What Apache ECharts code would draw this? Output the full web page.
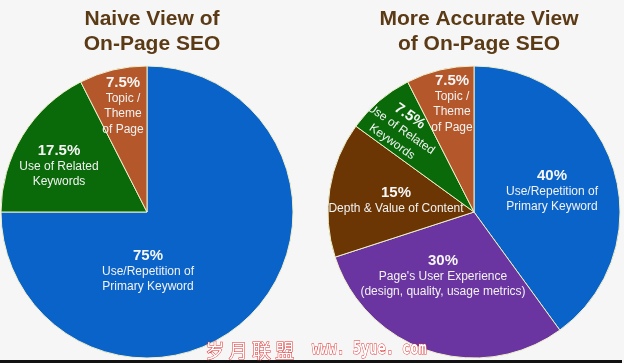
<!DOCTYPE html>
<html>
<head>
<meta charset="utf-8">
<script src="https://cdn.jsdelivr.net/npm/echarts@6/dist/echarts.min.js"></script>
<style>
html,body{margin:0;padding:0;background:#f6f6f6;}
#chart{width:624px;height:363px;}
</style>
</head>
<body>
<div id="chart"></div>
<script>
// ---- data ----
const leftTitle = 'Naive View of\nOn-Page SEO';
const rightTitle = 'More Accurate View\nof On-Page SEO';
const leftNames = ['Use/Repetition of\nPrimary Keyword', 'Use of Related\nKeywords', 'Topic /\nTheme\nof Page'];
const leftValues = [75, 17.5, 7.5];
const rightNames = ['Use/Repetition of\nPrimary Keyword', "Page's User Experience\n(design, quality, usage metrics)", 'Depth & Value of Content', 'Use of Related\nKeywords', 'Topic /\nTheme\nof Page'];
const rightValues = [40, 30, 15, 7.5, 7.5];

// ---- styles ----
const leftColors = ['#0a63c8', '#0a6a0a', '#b4572b'];
const rightColors = ['#0a63c8', '#6a35a0', '#6b3604', '#0a6a0a', '#b4572b'];
const leftLabelPos = [[148, 271], [59, 166], [123, 106]];
const rightLabelPos = [[552, 191], [443, 276], [396, 201], [401, 129], [452, 104]];
const rightLabelRot = [0, 0, 0, -35, 0];
const FONT = '"Liberation Sans", Arial, sans-serif';

function mkData(names, values, colors) {
  return names.map((n, i) => ({ name: n, value: values[i], itemStyle: { color: colors[i] } }));
}

const labelCfg = {
  show: true,
  position: 'inside',
  align: 'center',
  verticalAlign: 'middle',
  fontFamily: FONT,
  formatter: p => '{p|' + p.value + '%}\n' + p.name.split('\n').map(s => '{t|' + s + '}').join('\n'),
  rich: {
    p: { fontSize: 15, fontWeight: 'bold', color: '#f6f6f6', lineHeight: 16, fontFamily: FONT, align: 'center' },
    t: { fontSize: 12, color: '#f2f2f2', lineHeight: 15.5, fontFamily: FONT, align: 'center' }
  }
};

const chart = echarts.init(document.getElementById('chart'), null, { renderer: 'canvas' });
chart.setOption({
  animation: false,
  backgroundColor: '#f6f6f6',
  title: [
    { text: leftTitle, left: 147, top: 2, textAlign: 'center',
      textStyle: { fontFamily: FONT, fontSize: 21, fontWeight: 'bold', color: '#5b3a16', lineHeight: 25 } },
    { text: rightTitle, left: 474, top: 2, textAlign: 'center',
      textStyle: { fontFamily: FONT, fontSize: 21, fontWeight: 'bold', color: '#5b3a16', lineHeight: 25 } }
  ],
  series: [
    {
      type: 'pie', center: [147, 212], radius: 146, startAngle: 90, clockwise: true,
      silent: true,
      itemStyle: { borderColor: '#efefc8', borderWidth: 1 },
      label: labelCfg,
      labelLine: { show: false },
      labelLayout: p => ({ x: leftLabelPos[p.dataIndex][0], y: leftLabelPos[p.dataIndex][1], align: 'center', verticalAlign: 'middle' }),
      data: mkData(leftNames, leftValues, leftColors)
    },
    {
      type: 'pie', center: [474, 212], radius: 146, startAngle: 90, clockwise: true,
      silent: true,
      itemStyle: { borderColor: '#efefc8', borderWidth: 1 },
      label: labelCfg,
      labelLine: { show: false },
      labelLayout: p => ({ x: rightLabelPos[p.dataIndex][0], y: rightLabelPos[p.dataIndex][1], rotate: rightLabelRot[p.dataIndex], align: 'center', verticalAlign: 'middle' }),
      data: mkData(rightNames, rightValues, rightColors)
    }
  ],
  graphic: [
    { type: 'rect', left: 0, top: 360, shape: { width: 622, height: 3 }, style: { fill: '#111' }, z: 10 },
    { type: 'text', left: 205, top: 341, z: 11,
      style: { text: '岁 月 联 盟', font: '19px "Noto Sans CJK SC"', fill: '#ffffff', stroke: '#e03030', lineWidth: 1 } },
    { type: 'text', x: 312, y: 341, scaleX: 0.8, z: 11,
      style: { text: 'www. 5yue. com', font: 'bold 17px "DejaVu Sans Mono", monospace', fill: '#ffffff', stroke: '#e03030', lineWidth: 1 } }
  ]
});
</script>
</body>
</html>
